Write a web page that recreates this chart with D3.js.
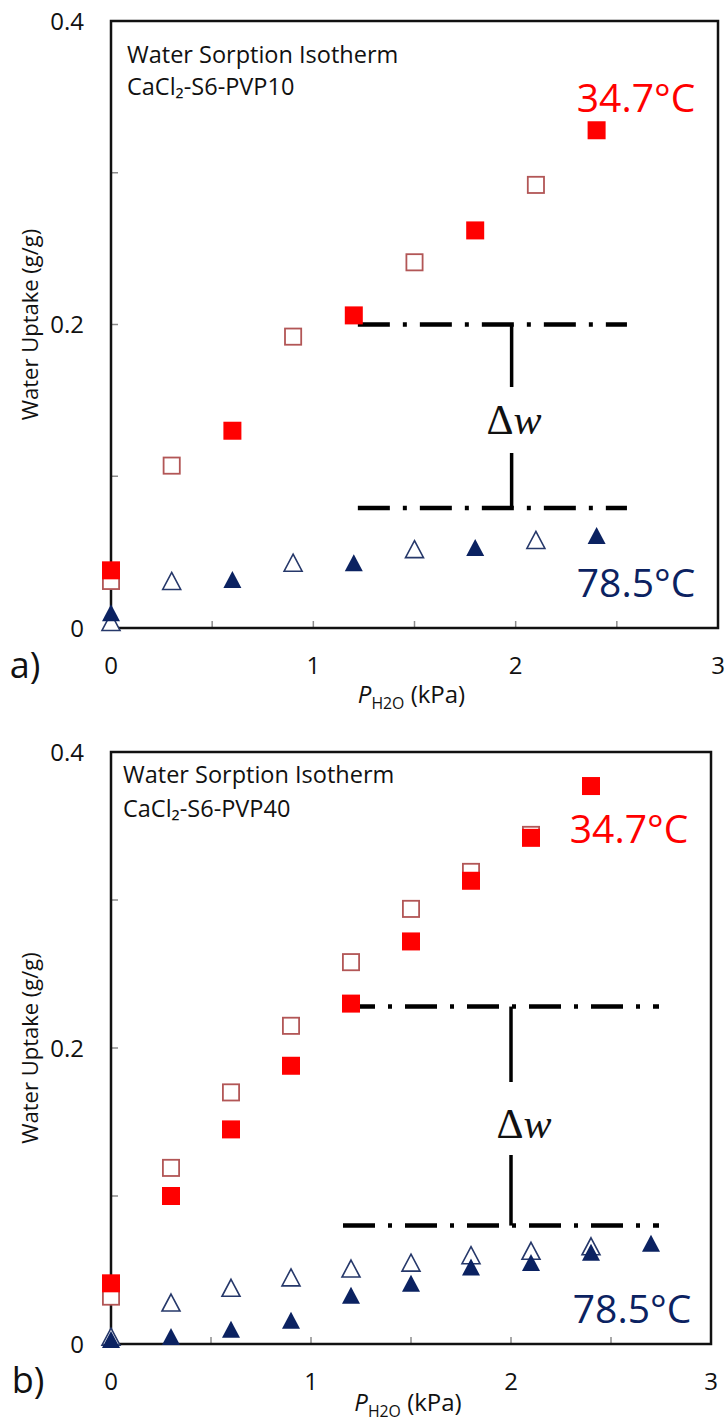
<!DOCTYPE html>
<html><head><meta charset="utf-8">
<script src="https://cdn.jsdelivr.net/npm/d3@7"></script>
<style>body{margin:0;background:#fff} svg{display:block}</style>
</head><body>
<svg id="c" width="727" height="1426"></svg>
<script>
// ---------- DATA ----------
// x: water vapour pressure P_H2O (kPa); y: water uptake (g/g)
// Panel a) CaCl2-S6-PVP10
const aRedFilledX  = [0, 0.6, 1.2, 1.8, 2.4];
const aRedFilledY  = [0.038, 0.130, 0.206, 0.262, 0.328];
const aRedOpenX    = [0, 0.3, 0.9, 1.5, 2.1];
const aRedOpenY    = [0.031, 0.107, 0.192, 0.241, 0.292];
const aBlueFilledX = [0, 0.6, 1.2, 1.8, 2.4];
const aBlueFilledY = [0.010, 0.032, 0.043, 0.053, 0.061];
const aBlueOpenX   = [0, 0.3, 0.9, 1.5, 2.1];
const aBlueOpenY   = [0.004, 0.031, 0.043, 0.052, 0.058];
// Panel b) CaCl2-S6-PVP40
const bRedFilledX  = [0, 0.3, 0.6, 0.9, 1.2, 1.5, 1.8, 2.1, 2.4];
const bRedFilledY  = [0.041, 0.100, 0.145, 0.188, 0.230, 0.272, 0.313, 0.342, 0.377];
const bRedOpenX    = [0, 0.3, 0.6, 0.9, 1.2, 1.5, 1.8, 2.1];
const bRedOpenY    = [0.032, 0.119, 0.170, 0.215, 0.258, 0.294, 0.319, 0.344];
const bBlueFilledX = [0, 0.3, 0.6, 0.9, 1.2, 1.5, 1.8, 2.1, 2.4, 2.7];
const bBlueFilledY = [0.003, 0.005, 0.010, 0.016, 0.033, 0.041, 0.052, 0.055, 0.062, 0.068];
const bBlueOpenX   = [0, 0.3, 0.6, 0.9, 1.2, 1.5, 1.8, 2.1, 2.4];
const bBlueOpenY   = [0.005, 0.028, 0.038, 0.045, 0.051, 0.055, 0.060, 0.063, 0.066];
// Δw reference lines: [x start, x end, y]
const aDeltaUpper = [1.22, 2.55, 0.200];
const aDeltaLower = [1.22, 2.55, 0.079];
const aDeltaX = 1.98;
const bDeltaUpper = [1.16, 2.74, 0.228];
const bDeltaLower = [1.16, 2.74, 0.080];
const bDeltaX = 2.0;
// ticks
const xTickLabels = [0, 1, 2, 3];
const xMinorTicks = [0.5, 1, 1.5, 2, 2.5];
const yTickLabels = [0, 0.2, 0.4];
const yMinorTicks = [0.1, 0.2, 0.3];
const panelLetters = ["a)", "b)"];
const sampleNames = ["CaCl\u2082-S6-PVP10", "CaCl\u2082-S6-PVP40"];
const tempLabels = ["34.7°C", "78.5°C"];

// ---------- STYLE ----------
const RED = "#ff0000", RED_OPEN = "#b25656", NAVY = "#0b2261", NAVY_OPEN = "#26386a";
const SANS = "'Open Sans', sans-serif";
const svg = d3.select("#c");

const zip = (xs, ys) => xs.map((x, i) => [x, ys[i]]);

const panels = [
  { left:111, right:718, top:21, bottom:628,
    redF: zip(aRedFilledX, aRedFilledY), redO: zip(aRedOpenX, aRedOpenY),
    bluF: zip(aBlueFilledX, aBlueFilledY), bluO: zip(aBlueOpenX, aBlueOpenY),
    up: aDeltaUpper, lo: aDeltaLower, dx: aDeltaX,
    vEnds:[387, 453], dwY: 420, dwX: 514,
    t1:[127, 63], t2:[127, 95], hot:[636, 98], cold:[636, 583],
    letter:[25, 665], xtY: 665, xtitleY: 703, name: sampleNames[0], L: panelLetters[0] },
  { left:111, right:711, top:752, bottom:1344,
    redF: zip(bRedFilledX, bRedFilledY), redO: zip(bRedOpenX, bRedOpenY),
    bluF: zip(bBlueFilledX, bBlueFilledY), bluO: zip(bBlueOpenX, bBlueOpenY),
    up: bDeltaUpper, lo: bDeltaLower, dx: bDeltaX,
    vEnds:[1082, 1155], dwY: 1124, dwX: 524,
    t1:[123, 783], t2:[123, 817], hot:[629, 829], cold:[632, 1309],
    letter:[28, 1380], xtY: 1381, xtitleY: 1411, name: sampleNames[1], L: panelLetters[1] }
];

const sq = 18;
const triW = 18, triH = 17;
const triPath = `M0,${-triH/2} L${triW/2},${triH/2} L${-triW/2},${triH/2} Z`;

panels.forEach(p => {
  const x = d3.scaleLinear().domain([0, 3]).range([p.left, p.right]);
  const y = d3.scaleLinear().domain([0, 0.4]).range([p.bottom, p.top]);
  const g = svg.append("g");

  // inner ticks
  g.selectAll(".yt").data(yMinorTicks).join("line")
    .attr("x1", p.left).attr("x2", p.left + 7)
    .attr("y1", d => y(d)).attr("y2", d => y(d))
    .attr("stroke", "#8c8c8c").attr("stroke-width", 1.5);
  g.selectAll(".xt").data(xMinorTicks).join("line")
    .attr("x1", d => x(d)).attr("x2", d => x(d))
    .attr("y1", p.bottom).attr("y2", p.bottom - 7)
    .attr("stroke", "#8c8c8c").attr("stroke-width", 1.5);

  // frame
  g.append("rect").attr("x", p.left).attr("y", p.top)
    .attr("width", p.right - p.left).attr("height", p.bottom - p.top)
    .attr("fill", "none").attr("stroke", "#111").attr("stroke-width", 2.5);

  // tick labels
  g.selectAll(".yl").data(yTickLabels).join("text")
    .attr("x", 84).attr("y", d => y(d)).attr("dy", "0.36em")
    .attr("text-anchor", "end").attr("font-family", SANS).attr("font-size", 24)
    .attr("fill", "#111").text(d => d3.format("")(d));
  g.selectAll(".xl").data(xTickLabels).join("text")
    .attr("x", d => x(d)).attr("y", p.xtY).attr("dy", "0.36em")
    .attr("text-anchor", "middle").attr("font-family", SANS).attr("font-size", 24)
    .attr("fill", "#111").text(d => d);

  // axis titles
  g.append("text")
    .attr("transform", `translate(38,${y(0.2)}) rotate(-90)`)
    .attr("text-anchor", "middle").attr("font-family", SANS).attr("font-size", 22)
    .attr("fill", "#111").text("Water Uptake (g/g)");
  const xt = g.append("text").attr("x", (p.left + p.right) / 2 - 3).attr("y", p.xtitleY)
    .attr("text-anchor", "middle").attr("font-family", SANS).attr("font-size", 24).attr("fill", "#111");
  xt.append("tspan").attr("font-style", "italic").text("P");
  xt.append("tspan").attr("font-size", "66%").attr("dy", 6).text("H2O");
  xt.append("tspan").attr("dy", -6).text(" (kPa)");

  // panel letter
  g.append("text").attr("x", p.letter[0]).attr("y", p.letter[1]).attr("dy", "0.36em")
    .attr("text-anchor", "middle").attr("font-family", SANS).attr("font-size", 36)
    .attr("fill", "#111").text(p.L);

  // sample title
  g.append("text").attr("x", p.t1[0]).attr("y", p.t1[1]).attr("font-family", SANS)
    .attr("font-size", 23.5).attr("fill", "#111").text("Water Sorption Isotherm");
  g.append("text").attr("x", p.t2[0]).attr("y", p.t2[1]).attr("font-family", SANS)
    .attr("font-size", 23.5).attr("fill", "#111").text(p.name);

  // temperature labels
  g.append("text").attr("x", p.hot[0]).attr("y", p.hot[1]).attr("dy", "0.36em")
    .attr("text-anchor", "middle").attr("font-family", SANS).attr("font-size", 39)
    .attr("fill", RED).text(tempLabels[0]);
  g.append("text").attr("x", p.cold[0]).attr("y", p.cold[1]).attr("dy", "0.36em")
    .attr("text-anchor", "middle").attr("font-family", SANS).attr("font-size", 39)
    .attr("fill", NAVY).text(tempLabels[1]);

  // Δw annotation
  const dash = "32,13,4,13";
  [p.up, p.lo].forEach(l => {
    g.append("line").attr("x1", x(l[0])).attr("x2", x(l[1]))
      .attr("y1", y(l[2])).attr("y2", y(l[2]))
      .attr("stroke", "#000").attr("stroke-width", 4.5).attr("stroke-dasharray", dash);
  });
  g.append("line").attr("x1", x(p.dx)).attr("x2", x(p.dx))
    .attr("y1", y(p.up[2])).attr("y2", p.vEnds[0]).attr("stroke", "#000").attr("stroke-width", 3.5);
  g.append("line").attr("x1", x(p.dx)).attr("x2", x(p.dx))
    .attr("y1", p.vEnds[1]).attr("y2", y(p.lo[2])).attr("stroke", "#000").attr("stroke-width", 3.5);
  const dw = g.append("text").attr("x", p.dwX).attr("y", p.dwY).attr("dy", "0.34em")
    .attr("text-anchor", "middle").attr("font-family", "'Liberation Serif', 'DejaVu Serif', serif")
    .attr("font-size", 42).attr("fill", "#111");
  dw.append("tspan").text("Δ");
  dw.append("tspan").attr("font-style", "italic").text("w");

  // markers
  g.selectAll(".ro").data(p.redO).join("rect")
    .attr("x", d => x(d[0]) - sq/2 + 0.9).attr("y", d => y(d[1]) - sq/2 + 0.9)
    .attr("width", sq - 1.8).attr("height", sq - 1.8)
    .attr("fill", "#fff").attr("stroke", RED_OPEN).attr("stroke-width", 1.8);
  g.selectAll(".rf").data(p.redF).join("rect")
    .attr("x", d => x(d[0]) - sq/2).attr("y", d => y(d[1]) - sq/2)
    .attr("width", sq).attr("height", sq).attr("fill", RED);
  g.selectAll(".bo").data(p.bluO).join("path")
    .attr("transform", d => `translate(${x(d[0])},${y(d[1])})`).attr("d", triPath)
    .attr("fill", "#fff").attr("stroke", NAVY_OPEN).attr("stroke-width", 1.6);
  g.selectAll(".bf").data(p.bluF).join("path")
    .attr("transform", d => `translate(${x(d[0])},${y(d[1])})`).attr("d", triPath)
    .attr("fill", NAVY);
});
</script>
</body></html>
